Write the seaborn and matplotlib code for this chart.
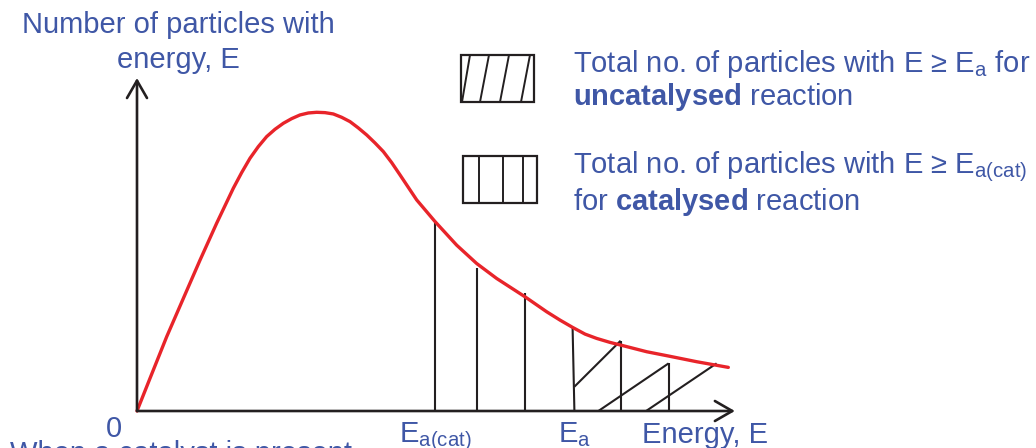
import matplotlib
matplotlib.use("Agg")
import matplotlib.pyplot as plt
from matplotlib.patches import Rectangle
from matplotlib.lines import Line2D
import seaborn as sns
import pandas as pd

# Maxwell-Boltzmann style distribution (energy in arbitrary units, count in %)
curve_E = [0, 0.433, 0.989, 1.544, 2.10, 2.656, 3.211, 3.489, 3.767, 4.044,
           4.322, 4.60, 4.878, 5.156, 5.433, 5.711, 5.989, 6.267, 6.544, 6.822,
           7.10, 7.378, 7.656, 7.933, 8.211, 8.489, 8.767, 9.322, 9.933, 10.656,
           11.322, 11.989, 12.933, 13.656, 14.10, 14.522, 14.933, 15.322,
           15.767, 16.122, 16.989, 17.722, 18.656, 19.711]
curve_N = [0, 9.8, 22.3, 33.8, 45.3, 56.4, 66.9, 71.6, 75.9, 79.4,
           82.4, 84.6, 86.4, 87.8, 88.9, 89.5, 89.7, 89.6, 89.2, 88.2,
           86.9, 85.0, 82.9, 80.5, 77.9, 74.6, 70.9, 63.4, 56.9, 49.8,
           44.3, 39.8, 34.3, 29.8, 27.3, 25.1, 23.1, 21.8,
           20.6, 19.8, 17.8, 16.5, 14.8, 13.1]

# Vertical shading lines for the catalysed region (E >= Ea(cat))
cat_E = [9.93, 11.33, 12.93]
cat_top = [56.5, 42.9, 35.4]

# Activation energy line (uncatalysed)
Ea_top = (14.52, 24.9)
Ea_base = (14.58, 0)

# Hatching for the uncatalysed region (E >= Ea)
uncat_E = [16.12, 17.72]
uncat_top = [21.0, 14.4]
diag_start = [(14.58, 7.3), (15.38, 0), (16.97, 0)]
diag_end = [(16.12, 21.1), (17.72, 14.3), (19.32, 14.3)]

x_max, y_max = 20, 100
x_arrow_end = 19.93

W, H = 1036, 448
RED = "#E8242A"
BLUE = "#3F57A6"
INK = "#231F20"

sns.set_theme(style="white")
plt.rcParams["font.family"] = ["Liberation Sans", "DejaVu Sans"]
plt.rcParams["mathtext.fontset"] = "custom"
plt.rcParams["mathtext.rm"] = "Liberation Sans"
plt.rcParams["mathtext.bf"] = "Liberation Sans:bold"
plt.rcParams["mathtext.it"] = "Liberation Sans:italic"

fig = plt.figure(figsize=(W / 100, H / 100), dpi=100)
fig.patch.set_facecolor("white")
ax = fig.add_axes([137 / W, (H - 411) / H, 600 / W, 333 / H])

# axes with open arrowheads
arrow = dict(arrowstyle="->,head_length=1.25,head_width=0.72", color=INK,
             lw=1.9, shrinkA=0, shrinkB=0, mutation_scale=10)
ax.annotate("", xy=(x_arrow_end, 0), xytext=(0, 0), arrowprops=arrow,
            annotation_clip=False)
ax.annotate("", xy=(0, y_max), xytext=(0, 0), arrowprops=arrow,
            annotation_clip=False)

# shading lines
line_kw = dict(color=INK, lw=1.5, solid_capstyle="butt", clip_on=False)
for e, t in zip(cat_E, cat_top):
    ax.plot([e, e], [0, t], **line_kw)
ax.plot([Ea_base[0], Ea_top[0]], [Ea_base[1], Ea_top[1]], **line_kw)
for e, t in zip(uncat_E, uncat_top):
    ax.plot([e, e], [0, t], **line_kw)
for (x0, y0), (x1, y1) in zip(diag_start, diag_end):
    ax.plot([x0, x1], [y0, y1], **line_kw)

# distribution curve
df = pd.DataFrame({"E": curve_E, "N": curve_N})
sns.lineplot(data=df, x="E", y="N", ax=ax, color=RED, lw=2.4,
             estimator=None, sort=False, clip_on=False)
ax.lines[-1].set_solid_joinstyle("round")
ax.lines[-1].set_solid_capstyle("round")
ax.set_xlim(0, x_max)
ax.set_ylim(0, y_max)
ax.axis("off")


def fx(px):
    return px / W


def fy(py):
    return 1 - py / H


fs = 21
# axis titles
fig.text(fx(178), fy(33), "Number of particles with", color=BLUE, fontsize=fs,
         ha="center", va="baseline")
fig.text(fx(178), fy(68), "energy, E", color=BLUE, fontsize=fs,
         ha="center", va="baseline")
fig.text(fx(114), fy(437), "0", color=BLUE, fontsize=fs,
         ha="center", va="baseline")
fig.text(fx(10), fy(462), "When a catalyst is present", color=BLUE,
         fontsize=fs, ha="left", va="baseline")

# energy markers
ax.text(cat_E[0], -9.4, r"$\mathrm{E_{a(cat)}}$", color=BLUE, fontsize=fs,
        ha="center", va="baseline", clip_on=False)
ax.text(Ea_base[0], -9.4, r"$\mathrm{E_{a}}$", color=BLUE, fontsize=fs,
        ha="center", va="baseline", clip_on=False)
fig.text(fx(642), fy(443), "Energy, E", color=BLUE, fontsize=fs,
         ha="left", va="baseline")

# legend
box_kw = dict(transform=fig.transFigure, fill=False, edgecolor=INK, lw=1.6)
seg_kw = dict(transform=fig.transFigure, color=INK, lw=1.4)

fig.add_artist(Rectangle((fx(461), fy(102)), (534 - 461) / W, (102 - 55) / H,
                         **box_kw))
for xb, xt in zip([462, 480, 500, 521], [470, 489, 509, 530]):
    fig.add_artist(Line2D([fx(xb), fx(xt)], [fy(102), fy(55)], **seg_kw))

fig.add_artist(Rectangle((fx(463), fy(203)), (537 - 463) / W, (203 - 156) / H,
                         **box_kw))
for xv in [479, 503, 523]:
    fig.add_artist(Line2D([fx(xv), fx(xv)], [fy(203), fy(156)], **seg_kw))

fig.text(fx(573), fy(72), r"Total no. of particles with E ≥ $\mathrm{E_{a}}$ for",
         color=BLUE, fontsize=fs, ha="left", va="baseline")
fig.text(fx(573), fy(105), r"$\mathbf{uncatalysed}$ reaction",
         color=BLUE, fontsize=fs, ha="left", va="baseline")
fig.text(fx(573), fy(173), r"Total no. of particles with E ≥ $\mathrm{E_{a(cat)}}$",
         color=BLUE, fontsize=fs, ha="left", va="baseline")
fig.text(fx(573), fy(210), r"for $\mathbf{catalysed}$ reaction",
         color=BLUE, fontsize=fs, ha="left", va="baseline")

fig.savefig("out.png", dpi=100, facecolor="white")
